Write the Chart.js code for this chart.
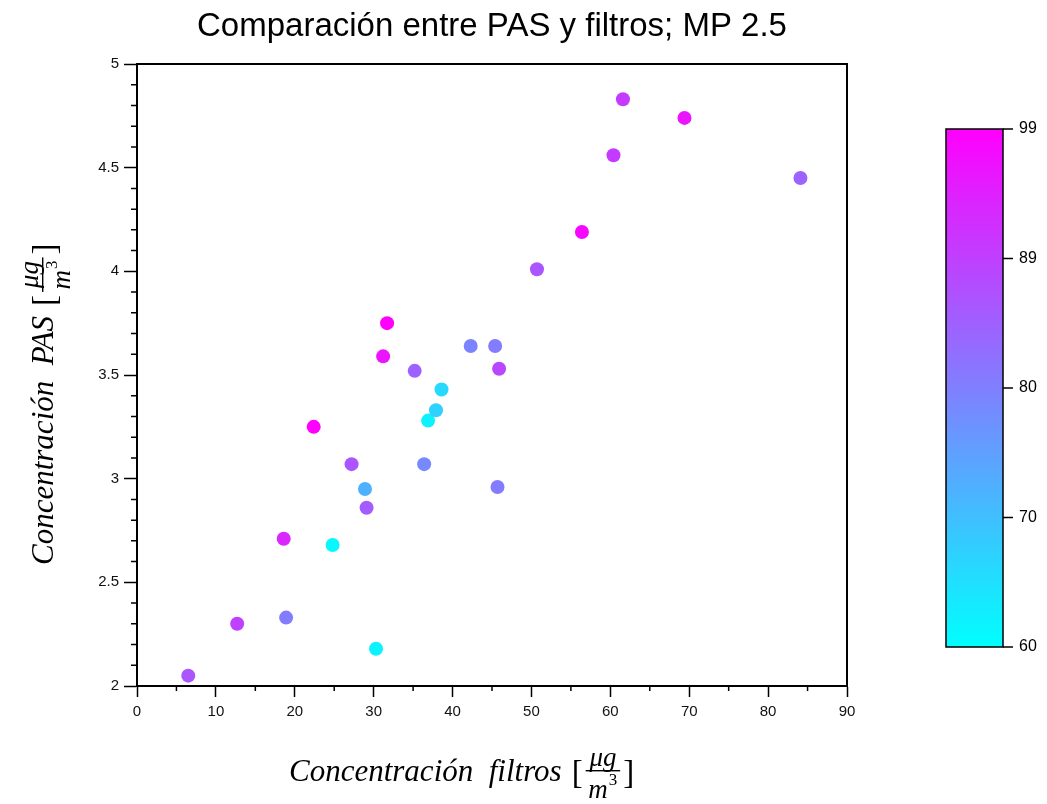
<!DOCTYPE html>
<html>
<head>
<meta charset="utf-8">
<script src="https://cdn.jsdelivr.net/npm/chart.js@4.4.1/dist/chart.umd.min.js"></script>
<style>
    html, body { margin: 0; padding: 0; background: #ffffff; }
    #wrap { width: 1047px; height: 804px; }
</style>
</head>
<body>
<div id="wrap"><canvas id="chart" width="1047" height="804"></canvas></div>
<script>
const chartTitle = 'Comparación entre PAS y filtros; MP 2.5';

// concentracion medida por filtros (eje x)
const filtros = [6.5, 12.7, 18.9, 18.6, 24.8, 30.3, 22.4, 27.2, 28.9, 29.1, 31.2, 31.7, 35.2, 36.4,
    36.9, 37.9, 38.6, 42.3, 45.4, 45.9, 45.7, 50.7, 56.4, 60.4, 61.6, 69.4, 84.1];
// concentracion PAS (eje y)
const pas = [2.05, 2.30, 2.33, 2.71, 2.68, 2.18, 3.25, 3.07, 2.95, 2.86, 3.59, 3.75, 3.52, 3.07,
    3.28, 3.33, 3.43, 3.64, 3.64, 3.53, 2.96, 4.01, 4.19, 4.56, 4.83, 4.74, 4.45];
// valor usado para el color de cada punto
const colorVals = [86, 89, 80, 93, 61, 62, 99, 86, 72, 85, 96, 99, 84, 78,
    62, 67, 66, 79, 80, 88, 80, 86, 98, 90, 90, 96, 84];

const xTicks = [0, 10, 20, 30, 40, 50, 60, 70, 80, 90];
const yTicks = [2, 2.5, 3, 3.5, 4, 4.5, 5];
const cbarMin = 60;
const cbarMax = 99;
const cbarTickLabels = ['60', '70', '80', '89', '99'];

const box = { left: 137, right: 847, top: 64, bottom: 686 };
const cbar = { left: 946, right: 1003, top: 129, bottom: 647 };

function coolColor(v)
{
    let t = (v - cbarMin) / (cbarMax - cbarMin);
    t = Math.max(0, Math.min(1, t));
    return `rgb(${Math.round(255 * t)}, ${Math.round(255 * (1 - t))}, 255)`;
}

const points = filtros.map((x, i) => ({ x: x, y: pas[i] }));

// draws "texto [ug/m3]" with the fraction stacked, origin at start of baseline
function drawUnitLabel(ctx, text)
{
    ctx.fillStyle = '#000';
    ctx.textBaseline = 'alphabetic';
    ctx.textAlign = 'left';
    ctx.font = 'italic 31px "Liberation Serif"';
    ctx.fillText(text, 0, 0);
    let x = ctx.measureText(text).width + 10;
    ctx.font = '33px "Liberation Serif"';
    ctx.fillText('[', x, 2);
    x += ctx.measureText('[').width + 3;
    ctx.font = 'italic 27px "Liberation Serif"';
    const wNum = ctx.measureText('μg').width;
    const wDen = ctx.measureText('m').width + 11;
    const w = Math.max(wNum, wDen) + 4;
    ctx.textAlign = 'center';
    ctx.fillText('μg', x + w / 2, -15);
    ctx.fillText('m', x + w / 2 - 5, 17);
    ctx.font = '17px "Liberation Serif"';
    ctx.fillText('3', x + w / 2 + 10, 4);
    ctx.fillRect(x, -11, w, 1.4);
    x += w + 3;
    ctx.textAlign = 'left';
    ctx.font = '33px "Liberation Serif"';
    ctx.fillText(']', x, 2);
}

const decorPlugin = {
    id: 'decor',
    afterDraw(chart) {
        const ctx = chart.ctx;
        const xs = chart.scales.x;
        const ys = chart.scales.y;
        const a = chart.chartArea;
        ctx.save();

        // minor ticks
        ctx.strokeStyle = '#000';
        ctx.lineWidth = 1.5;
        ctx.beginPath();
        for (let v = 5; v < 90; v += 10) {
            const px = xs.getPixelForValue(v);
            ctx.moveTo(px, a.bottom);
            ctx.lineTo(px, a.bottom + 5);
        }
        for (let k = 0; k <= 30; k++) {
            if (k % 5 == 0) continue;
            const py = ys.getPixelForValue(2 + k / 10);
            ctx.moveTo(a.left, py);
            ctx.lineTo(a.left - 6, py);
        }
        ctx.stroke();

        // box around plot
        ctx.lineWidth = 2;
        ctx.strokeRect(a.left, a.top, a.right - a.left, a.bottom - a.top);

        // title
        ctx.fillStyle = '#000';
        ctx.font = '33px "Liberation Sans"';
        ctx.textAlign = 'center';
        ctx.textBaseline = 'middle';
        ctx.fillText(chartTitle, (a.left + a.right) / 2, 27);

        // axis labels
        ctx.save();
        ctx.translate(289, 781);
        drawUnitLabel(ctx, 'Concentración  filtros');
        ctx.restore();
        ctx.save();
        ctx.translate(53, 565);
        ctx.rotate(-Math.PI / 2);
        drawUnitLabel(ctx, 'Concentración  PAS');
        ctx.restore();

        // colorbar
        const grad = ctx.createLinearGradient(0, cbar.bottom, 0, cbar.top);
        grad.addColorStop(0, coolColor(cbarMin));
        grad.addColorStop(1, coolColor(cbarMax));
        ctx.fillStyle = grad;
        ctx.fillRect(cbar.left, cbar.top, cbar.right - cbar.left, cbar.bottom - cbar.top);
        ctx.lineWidth = 1.5;
        ctx.strokeStyle = '#000';
        ctx.strokeRect(cbar.left, cbar.top, cbar.right - cbar.left, cbar.bottom - cbar.top);
        ctx.font = '16px "Liberation Sans"';
        ctx.fillStyle = '#000';
        ctx.textAlign = 'left';
        ctx.textBaseline = 'middle';
        const n = cbarTickLabels.length;
        for (let i = 0; i < n; i++) {
            const py = cbar.bottom - i * (cbar.bottom - cbar.top) / (n - 1);
            ctx.beginPath();
            ctx.moveTo(cbar.right, py);
            ctx.lineTo(cbar.right + 10, py);
            ctx.stroke();
            ctx.fillText(cbarTickLabels[i], cbar.right + 16, py);
        }
        ctx.restore();
    }
};

new Chart(document.getElementById('chart'), {
    type: 'scatter',
    data: {
        datasets: [{
            label: 'PAS vs filtros',
            data: points,
            pointRadius: 7,
            pointHoverRadius: 7,
            borderWidth: 0,
            backgroundColor: (ctx) => coolColor(colorVals[ctx.dataIndex]),
            pointBackgroundColor: (ctx) => coolColor(colorVals[ctx.dataIndex])
        }]
    },
    options: {
        responsive: false,
        animation: false,
        events: [],
        layout: {
            padding: { top: box.top, right: 1047 - box.right, left: 0, bottom: 0 }
        },
        plugins: {
            legend: { display: false },
            title: { display: false },
            tooltip: { enabled: false }
        },
        scales: {
            x: {
                type: 'linear',
                min: 0,
                max: 90,
                afterBuildTicks: (scale) => { scale.ticks = xTicks.map(v => ({ value: v })); },
                afterFit: (scale) => { scale.height = 804 - box.bottom; },
                ticks: {
                    font: { family: 'Liberation Sans', size: 15 },
                    color: '#111',
                    padding: 6,
                    maxRotation: 0,
                    callback: (v) => String(v)
                },
                grid: { drawOnChartArea: false, tickLength: 11, tickWidth: 1.5, tickColor: '#000' },
                border: { color: '#000', width: 2 }
            },
            y: {
                type: 'linear',
                min: 2,
                max: 5,
                afterBuildTicks: (scale) => { scale.ticks = yTicks.map(v => ({ value: v })); },
                afterFit: (scale) => { scale.width = box.left; },
                ticks: {
                    font: { family: 'Liberation Sans', size: 15 },
                    color: '#111',
                    padding: 5,
                    callback: (v) => String(v)
                },
                grid: { drawOnChartArea: false, tickLength: 13, tickWidth: 1.5, tickColor: '#000' },
                border: { color: '#000', width: 2 }
            }
        }
    },
    plugins: [decorPlugin]
});
</script>
</body>
</html>
